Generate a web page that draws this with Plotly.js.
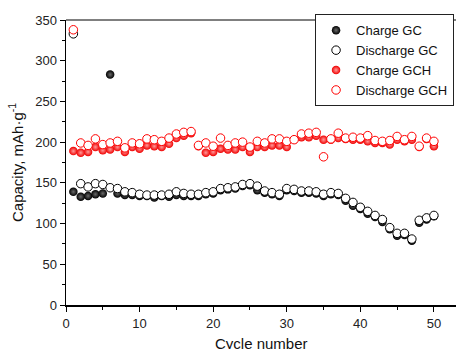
<!DOCTYPE html>
<html>
<head>
<meta charset="utf-8">
<script src="https://cdn.plot.ly/plotly-3.0.1.min.js"></script>
<style>html,body{margin:0;padding:0;background:#fff;}#chart{width:456px;height:349px;}</style>
</head>
<body>
<div id="chart"></div>
<script>
const cycles = [1,2,3,4,5,6,7,8,9,10,11,12,13,14,15,16,17,18,19,20,21,22,23,24,25,26,27,28,29,30,31,32,33,34,35,36,37,38,39,40,41,42,43,44,45,46,47,48,49,50];
const chargeGC = [139,133,134,136,137,283,137,135,135,134,134,132,134,133,135,134,134,134,136,137,141,142,143,146,147,141,138,136,134,141,140,138,138,137,134,136,135,128,122,118,112,108,102,93,85,86,79,101,105,109];
const dischargeGC = [333,149,145,149,148,144,143,139,138,136,135,135,135,136,139,137,136,136,138,139,143,144,145,148,149,146,140,138,136,143,142,140,140,139,136,138,137,131,126,120,115,110,105,95,88,88,81,104,107,110];
const chargeGCH = [189,187,188,194,190,191,194,188,194,192,196,195,194,198,205,208,211,195,187,188,192,191,191,194,188,194,194,196,196,194,203,206,206,208,203,203,205,204,203,203,201,199,199,197,203,201,203,194,204,195];
const dischargeGCH = [338,199,196,204,197,199,201,193,199,198,204,203,201,205,210,212,213,196,199,195,205,196,199,200,194,201,199,204,204,201,203,210,211,212,182,204,211,205,206,205,208,202,201,202,207,203,207,195,205,201];
const seriesNames = ['Charge GC','Discharge GC','Charge GCH','Discharge GCH'];
const xTitle = 'Cycle number';
const yTitle = 'Capacity, mAh·g<sup>-1</sup>';

const MS = 8.5;
const traces = [
  {x: cycles, y: chargeGC, name: seriesNames[0], type: 'scatter', mode: 'markers',
   marker: {symbol: 'circle', size: MS, color: '#000000', gradient: {type: 'radial', color: '#6a6a6a'}, line: {width: 0}}},
  {x: cycles, y: dischargeGC, name: seriesNames[1], type: 'scatter', mode: 'markers',
   marker: {symbol: 'circle', size: MS, color: '#ffffff', line: {width: 1, color: '#000000'}}},
  {x: cycles, y: chargeGCH, name: seriesNames[2], type: 'scatter', mode: 'markers',
   marker: {symbol: 'circle', size: MS, color: '#f00000', gradient: {type: 'radial', color: '#ff9a9a'}, line: {width: 0}}},
  {x: cycles, y: dischargeGCH, name: seriesNames[3], type: 'scatter', mode: 'markers',
   marker: {symbol: 'circle', size: MS, color: '#ffffff', line: {width: 1, color: '#ff0000'}}}
];

const layout = {
  width: 456, height: 349,
  margin: {l: 66, r: 0, t: 20, b: 44},
  paper_bgcolor: '#ffffff', plot_bgcolor: '#ffffff',
  font: {family: 'Liberation Sans, Arial, sans-serif', color: '#222', size: 13},
  showlegend: true,
  legend: {x: 0.995, y: 1.02, xanchor: 'right', yanchor: 'top', bgcolor: '#ffffff',
    bordercolor: '#222', borderwidth: 1, font: {size: 13, color: '#111'}, tracegroupgap: 0, itemwidth: 30},
  xaxis: {range: [0, 53], showgrid: false, zeroline: false, showline: true, linecolor: '#000', linewidth: 2,
    ticks: 'outside', ticklen: 5, tickwidth: 1, tickcolor: '#000', dtick: 10, tick0: 0,
    minor: {ticks: 'outside', ticklen: 3, dtick: 5, tickcolor: '#000', tickwidth: 1},
    tickfont: {size: 13, color: '#222'}},
  yaxis: {range: [0, 350], showgrid: false, zeroline: false, showline: true, linecolor: '#000', linewidth: 1.5,
    ticks: 'outside', ticklen: 5, tickwidth: 1, tickcolor: '#000', dtick: 50, tick0: 0,
    minor: {ticks: 'outside', ticklen: 3, dtick: 25, tickcolor: '#000', tickwidth: 1},
    tickfont: {size: 13, color: '#222'},
    title: {text: yTitle, font: {size: 15, color: '#111'}, standoff: 8}},
  annotations: [{text: xTitle, xref: 'paper', yref: 'paper', x: 0.5, y: 0, xanchor: 'center', yanchor: 'top',
    yshift: -28, showarrow: false, font: {size: 15, color: '#111'}}],
  shapes: [{type: 'line', xref: 'paper', yref: 'paper', x0: 0, x1: 1, y0: 1, y1: 1, line: {color: '#000', width: 1}}]
};

Plotly.newPlot('chart', traces, layout, {displayModeBar: false, staticPlot: true});
</script>
</body>
</html>
